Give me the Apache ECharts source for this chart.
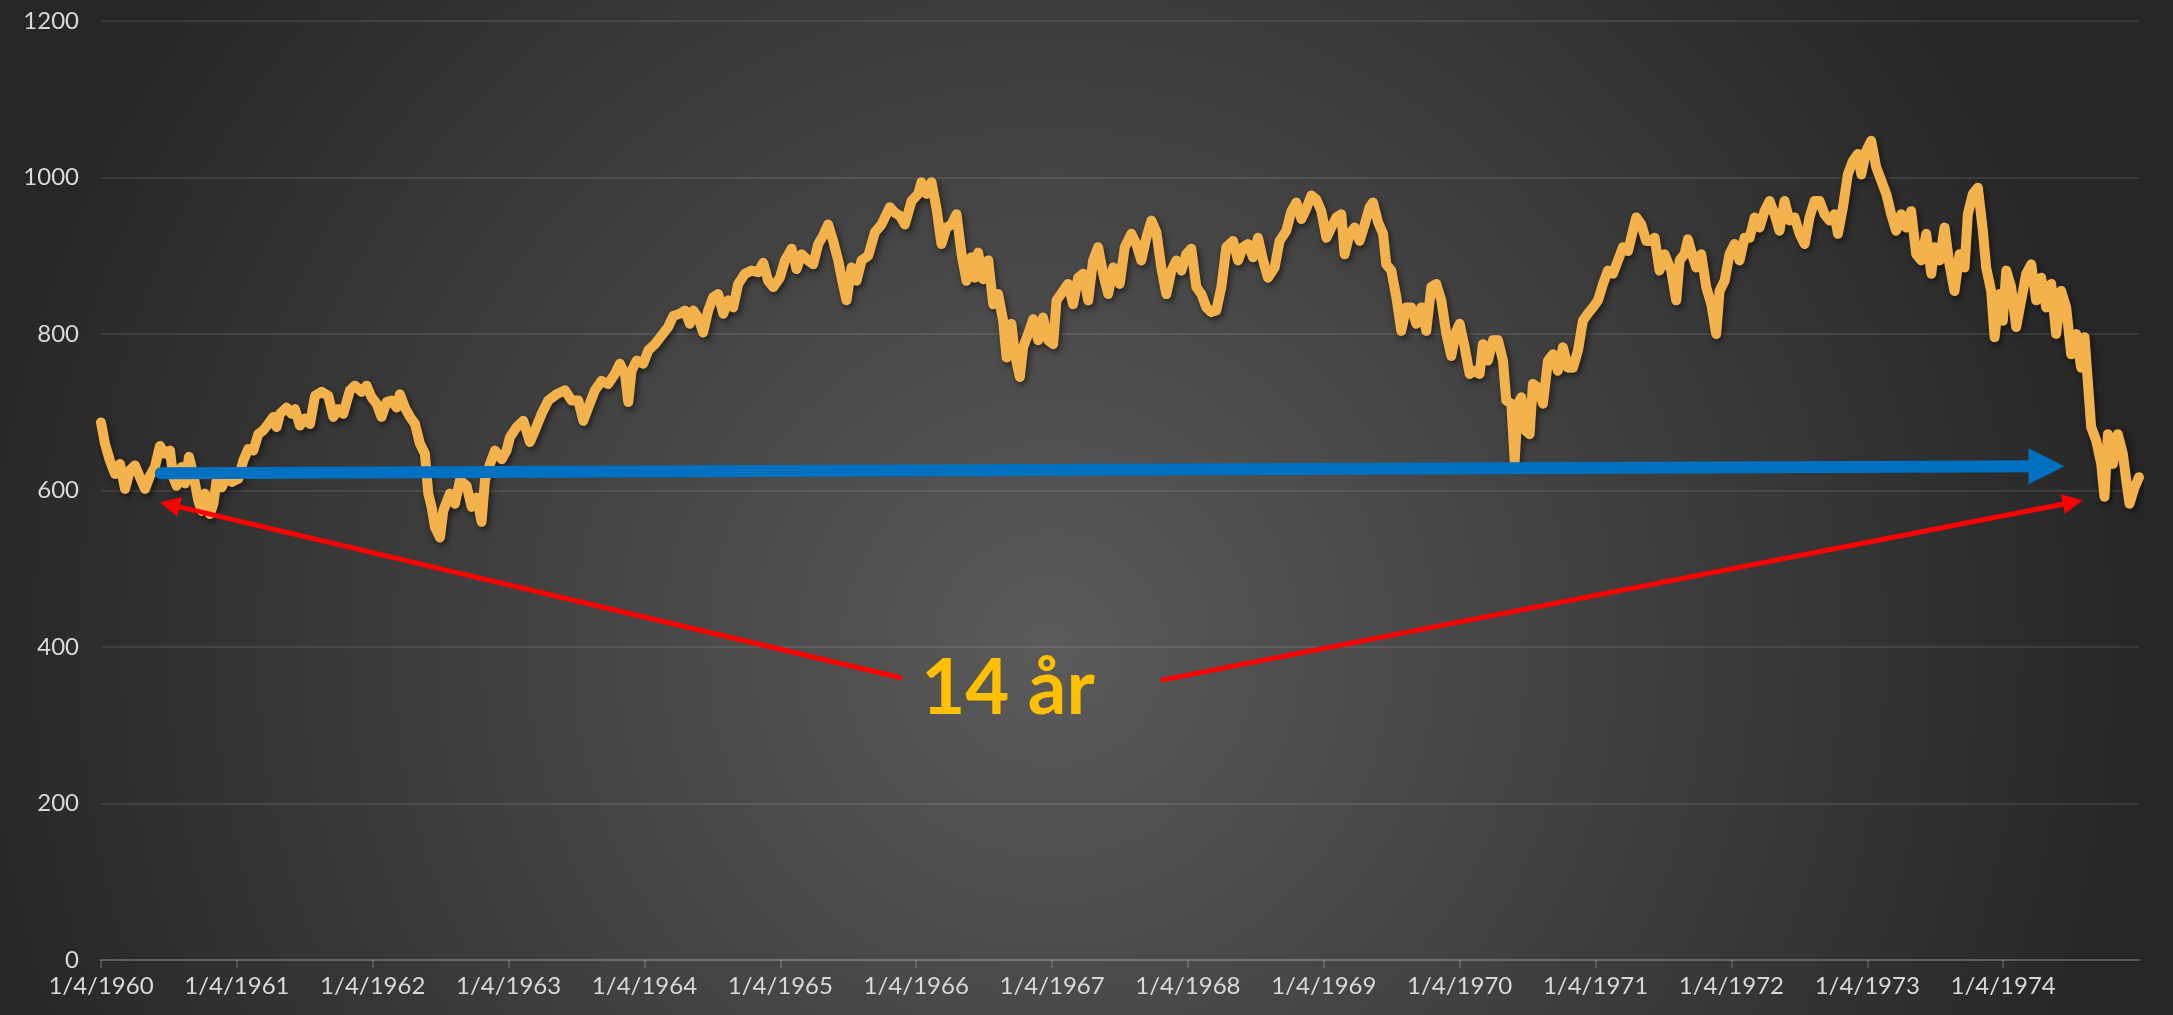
<!DOCTYPE html>
<html>
<head>
<meta charset="utf-8">
<title>Dow Jones 1960-1974</title>
<script src="https://cdn.jsdelivr.net/npm/echarts@6/dist/echarts.min.js"></script>
<style>
    html, body { margin: 0; padding: 0; background: #262626; }
    #main { width: 2173px; height: 1015px; }
</style>
</head>
<body>
<div id="main"></div>
<script>
// x-axis tick labels, one per year (position = years since 1/4/1960)
var yearLabels = ['1/4/1960', '1/4/1961', '1/4/1962', '1/4/1963', '1/4/1964', '1/4/1965', '1/4/1966',
    '1/4/1967', '1/4/1968', '1/4/1969', '1/4/1970', '1/4/1971', '1/4/1972', '1/4/1973', '1/4/1974'];

// [years since 1/4/1960, index close]
var djiaPoints = [
    [0.000,687],[0.029,660],[0.066,638],[0.103,621],[0.140,634],[0.177,602],[0.213,626],[0.250,632],[0.287,617],[0.324,602],
    [0.361,619],[0.397,630],[0.434,657],[0.471,647],[0.508,651],[0.532,617],[0.557,606],[0.594,630],[0.618,609],[0.648,643],
    [0.679,621],[0.716,587],[0.741,574],[0.765,596],[0.802,570],[0.827,583],[0.851,613],[0.888,604],[0.925,617],[0.962,611],
    [1.011,615],[1.047,638],[1.084,653],[1.121,651],[1.158,672],[1.195,677],[1.231,685],[1.268,694],[1.293,681],[1.317,698],
    [1.366,706],[1.403,698],[1.428,704],[1.464,683],[1.501,692],[1.538,685],[1.575,721],[1.624,726],[1.673,721],[1.710,694],
    [1.746,704],[1.783,698],[1.832,728],[1.869,734],[1.918,726],[1.955,734],[1.992,719],[2.028,711],[2.065,694],[2.102,713],
    [2.139,715],[2.176,706],[2.200,723],[2.237,706],[2.274,694],[2.311,685],[2.347,660],[2.384,647],[2.409,596],[2.433,579],
    [2.458,553],[2.495,540],[2.519,574],[2.568,596],[2.605,583],[2.642,613],[2.691,606],[2.728,579],[2.765,591],[2.801,560],
    [2.826,613],[2.863,634],[2.900,651],[2.949,640],[2.985,651],[3.010,668],[3.059,681],[3.108,689],[3.157,662],[3.194,677],
    [3.243,698],[3.292,715],[3.353,723],[3.415,728],[3.464,715],[3.513,715],[3.550,689],[3.586,706],[3.635,728],[3.684,740],
    [3.733,736],[3.782,749],[3.819,762],[3.856,749],[3.881,713],[3.905,753],[3.942,766],[3.991,762],[4.028,779],[4.077,787],
    [4.126,798],[4.175,809],[4.212,823],[4.261,826],[4.298,830],[4.334,813],[4.359,830],[4.396,821],[4.432,802],[4.469,830],
    [4.506,847],[4.543,851],[4.580,826],[4.616,843],[4.653,834],[4.690,864],[4.739,877],[4.788,881],[4.837,879],[4.874,891],
    [4.911,868],[4.948,860],[4.997,872],[5.034,894],[5.083,909],[5.119,883],[5.156,902],[5.205,894],[5.242,889],[5.279,915],
    [5.316,926],[5.352,940],[5.389,919],[5.426,894],[5.451,872],[5.487,843],[5.524,885],[5.561,868],[5.598,894],[5.647,900],
    [5.696,930],[5.745,940],[5.806,962],[5.843,955],[5.880,951],[5.917,940],[5.966,970],[6.015,979],[6.039,994],[6.076,979],
    [6.113,994],[6.150,960],[6.186,915],[6.223,936],[6.260,940],[6.297,953],[6.334,902],[6.370,868],[6.407,898],[6.432,872],
    [6.456,904],[6.493,870],[6.530,894],[6.567,838],[6.603,851],[6.640,817],[6.665,770],[6.701,813],[6.726,774],[6.763,745],
    [6.787,783],[6.824,800],[6.861,819],[6.898,792],[6.934,821],[6.971,792],[7.008,787],[7.033,843],[7.082,855],[7.118,864],
    [7.155,838],[7.192,872],[7.229,877],[7.266,843],[7.302,894],[7.339,911],[7.376,877],[7.413,851],[7.450,885],[7.498,864],
    [7.535,911],[7.584,928],[7.620,915],[7.657,894],[7.694,923],[7.731,945],[7.768,930],[7.804,885],[7.841,851],[7.878,881],
    [7.915,894],[7.952,881],[7.988,902],[8.025,909],[8.062,860],[8.099,851],[8.136,834],[8.172,828],[8.209,830],[8.246,860],
    [8.283,911],[8.332,919],[8.369,894],[8.405,911],[8.442,915],[8.479,898],[8.516,923],[8.553,894],[8.589,872],[8.638,885],
    [8.675,919],[8.724,932],[8.761,957],[8.798,968],[8.835,947],[8.871,960],[8.908,977],[8.945,972],[8.982,957],[9.019,923],
    [9.055,936],[9.092,949],[9.129,953],[9.153,902],[9.190,928],[9.227,936],[9.264,919],[9.301,940],[9.337,962],[9.362,968],
    [9.399,943],[9.436,928],[9.460,889],[9.497,881],[9.534,847],[9.570,804],[9.607,834],[9.644,834],[9.681,813],[9.718,834],
    [9.754,804],[9.791,860],[9.828,864],[9.865,843],[9.902,800],[9.938,772],[9.975,804],[10.000,813],[10.037,783],[10.073,749],
    [10.110,753],[10.147,749],[10.171,787],[10.208,766],[10.245,792],[10.282,792],[10.319,766],[10.343,715],[10.380,711],[10.405,638],
    [10.429,711],[10.454,719],[10.483,677],[10.515,672],[10.539,736],[10.576,732],[10.613,711],[10.650,766],[10.687,774],[10.723,753],
    [10.760,783],[10.797,757],[10.834,757],[10.871,779],[10.907,817],[10.944,826],[10.981,834],[11.018,843],[11.055,864],[11.091,881],
    [11.128,877],[11.165,894],[11.202,911],[11.239,906],[11.275,932],[11.300,949],[11.337,940],[11.373,919],[11.410,919],[11.435,923],
    [11.471,881],[11.508,902],[11.557,881],[11.594,843],[11.619,894],[11.655,902],[11.680,921],[11.717,898],[11.741,885],[11.778,902],
    [11.815,860],[11.852,838],[11.888,800],[11.913,855],[11.950,868],[11.986,902],[12.023,915],[12.060,894],[12.097,923],[12.134,923],
    [12.171,949],[12.207,936],[12.244,957],[12.281,970],[12.318,953],[12.354,932],[12.391,970],[12.428,945],[12.465,949],[12.502,928],
    [12.539,915],[12.575,949],[12.612,970],[12.649,970],[12.686,953],[12.723,945],[12.759,953],[12.784,928],[12.821,962],[12.857,1004],
    [12.894,1021],[12.931,1030],[12.956,1004],[12.992,1034],[13.029,1047],[13.066,1013],[13.103,996],[13.140,979],[13.176,953],[13.213,932],
    [13.250,953],[13.287,936],[13.323,957],[13.360,902],[13.397,894],[13.434,928],[13.471,877],[13.495,911],[13.532,894],[13.569,936],
    [13.605,889],[13.642,855],[13.679,902],[13.716,885],[13.740,953],[13.777,979],[13.814,987],[13.851,932],[13.875,885],[13.912,855],
    [13.937,796],[13.973,851],[13.998,817],[14.023,881],[14.059,860],[14.096,809],[14.133,843],[14.170,877],[14.207,889],[14.243,843],
    [14.280,872],[14.317,834],[14.354,864],[14.390,800],[14.427,855],[14.464,834],[14.501,774],[14.538,800],[14.574,757],[14.599,796],
    [14.623,740],[14.648,681],[14.685,664],[14.722,634],[14.746,592],[14.771,672],[14.808,634],[14.844,672],[14.881,647],[14.906,613],
    [14.930,583],[14.967,604],[15.000,617]
];

// annotation arrows, [start, end] in data coordinates
var blueArrow = [[0.44, 622], [14.319, 631]];
var leftRedArrow = [[5.879, 361], [0.506, 582]];
var rightRedArrow = [[7.815, 358], [14.512, 585]];
var spanText = '14 år';

var tickIdx = yearLabels.map(function (n, i) { return i; });

function arrowSeries(pts, color, width, head) {
    return {
        type: 'line',
        data: [],
        markLine: {
            silent: true,
            animation: false,
            symbol: ['none', 'triangle'],
            symbolSize: head,
            label: {show: false},
            lineStyle: {type: 'solid', color: color, width: width, cap: 'round', opacity: 1},
            emphasis: {disabled: true},
            data: [[{coord: pts[0]}, {coord: pts[1]}]]
        }
    };
}

var chart = echarts.init(document.getElementById('main'));
var option = {
    backgroundColor: '#262626',
    animation: false,
    graphic: [
        {
            type: 'rect',
            z: -100,
            silent: true,
            shape: {x: 0, y: 0, width: 2173, height: 1015},
            style: {
                fill: {
                    type: 'radial', x: 0.483, y: 0.64, r: 1.084,
                    colorStops: [
                        {offset: 0, color: '#5a5a5a'},
                        {offset: 1, color: '#262626'}
                    ]
                }
            }
        },
        {
            type: 'text',
            z: 50,
            x: 1008,
            y: 689,
            silent: true,
            style: {
                text: spanText,
                fill: '#FFC000',
                font: 'bold 76px Lato',
                align: 'center',
                verticalAlign: 'middle'
            }
        }
    ],
    grid: {left: 101, right: 34, top: 21, bottom: 55, containLabel: false},
    xAxis: {
        type: 'value',
        min: 0,
        max: 15,
        interval: 1,
        axisLine: {show: true, lineStyle: {color: 'rgba(255,255,255,0.16)', width: 2}},
        axisTick: {show: true, length: 8, customValues: tickIdx, lineStyle: {color: 'rgba(255,255,255,0.16)', width: 2}},
        splitLine: {show: false},
        axisLabel: {
            color: '#d9d9d9',
            fontSize: 24,
            fontFamily: 'Lato',
            margin: 14,
            customValues: tickIdx,
            formatter: function (v) { return yearLabels[v] || ''; }
        }
    },
    yAxis: {
        type: 'value',
        min: 0,
        max: 1200,
        interval: 200,
        axisLine: {show: false},
        axisTick: {show: false},
        splitLine: {lineStyle: {color: 'rgba(255,255,255,0.09)', width: 2}},
        axisLabel: {
            color: '#d9d9d9',
            fontSize: 24,
            fontFamily: 'Lato',
            margin: 22,
            formatter: function (v) { return String(v); }
        }
    },
    series: [
        {
            name: 'DJIA',
            type: 'line',
            data: djiaPoints,
            showSymbol: false,
            z: 3,
            lineStyle: {
                color: '#F4B24D',
                width: 10,
                cap: 'round',
                join: 'round',
                shadowColor: 'rgba(0,0,0,0.55)',
                shadowBlur: 6,
                shadowOffsetX: 2,
                shadowOffsetY: 3
            }
        },
        arrowSeries(blueArrow, '#0070C0', 12, 36),
        arrowSeries(leftRedArrow, '#FF0000', 5, 20),
        arrowSeries(rightRedArrow, '#FF0000', 5, 20)
    ]
};
chart.setOption(option);
</script>
</body>
</html>
